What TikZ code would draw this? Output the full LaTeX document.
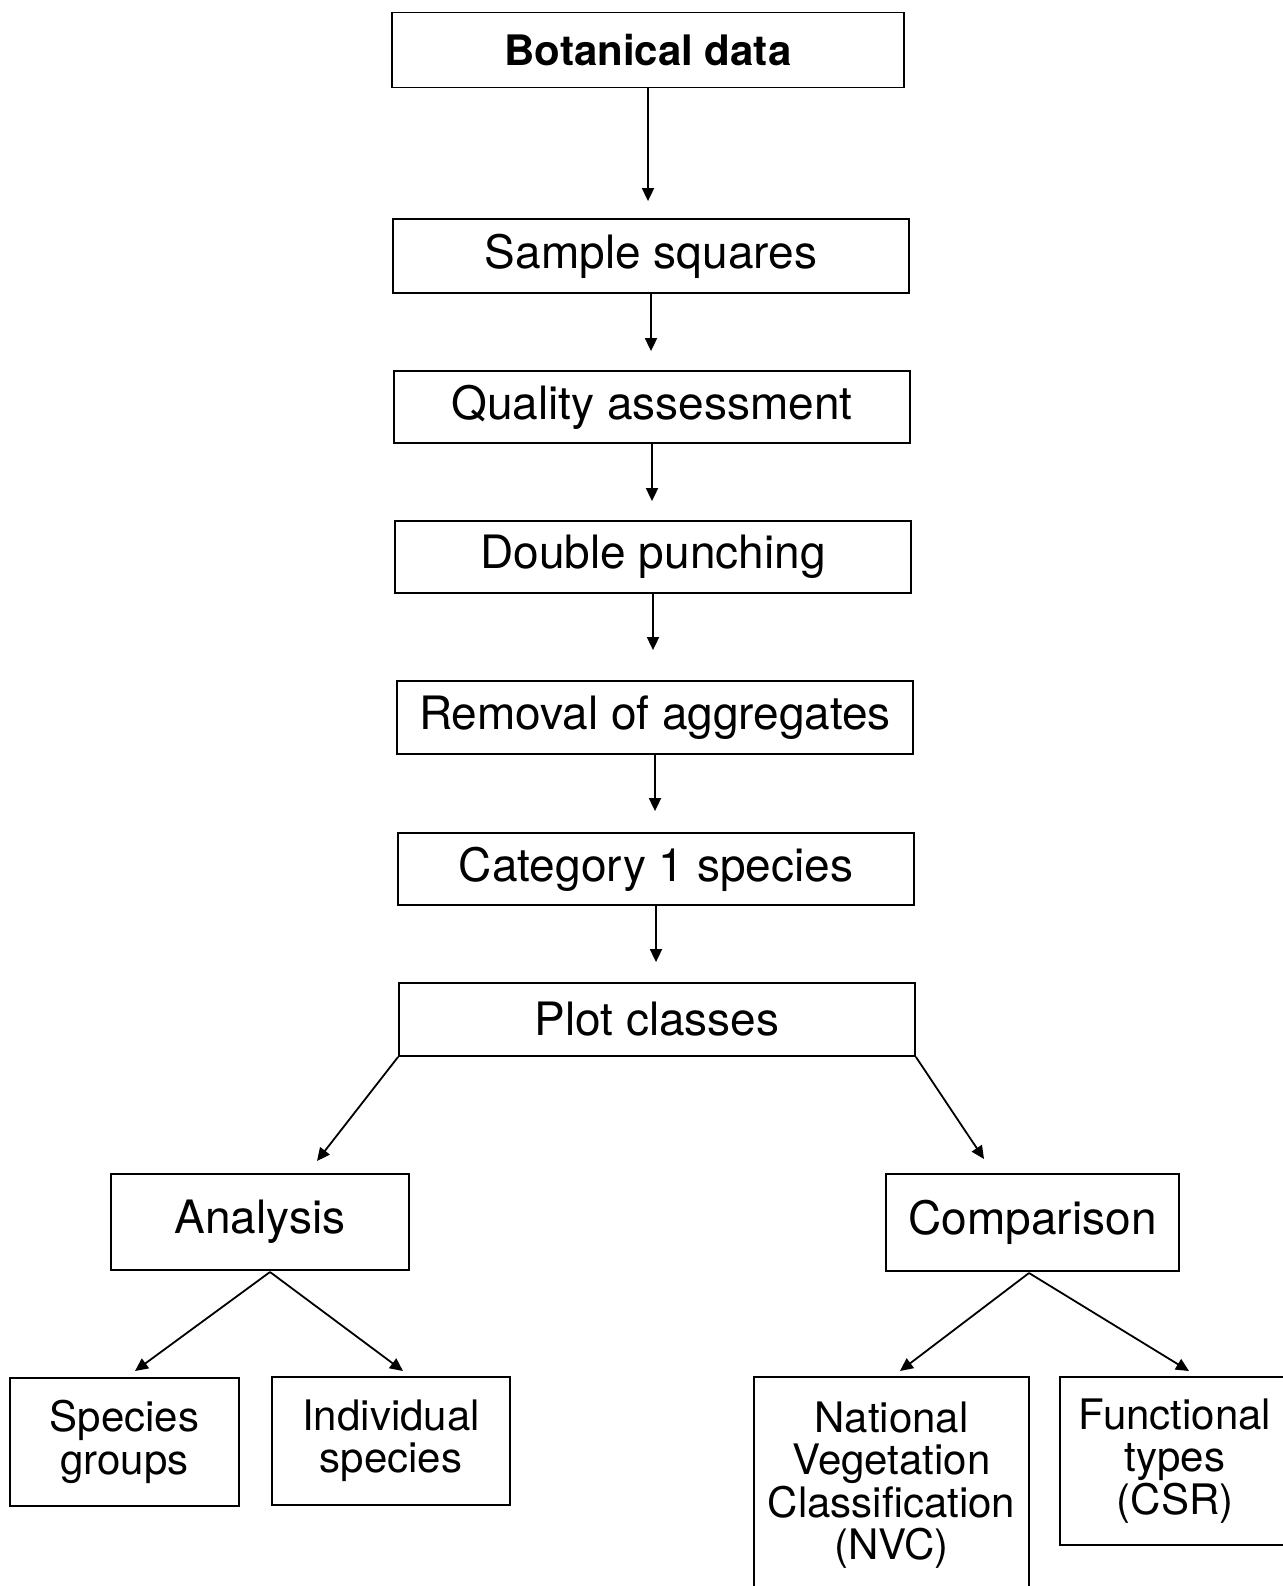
\documentclass[tikz,border=0pt]{standalone}
\usepackage{fontspec}
\setmainfont{TeX Gyre Heros}
\usetikzlibrary{arrows.meta}

\begin{document}
\begin{tikzpicture}[x=1pt, y=-1pt,
  box/.style={draw=black, line width=1.8pt, inner sep=0pt, font=\fontsize{46}{50}\selectfont},
  leaf/.style={box, align=center, font=\fontsize{42}{42.5}\selectfont},
  arr/.style={-{Triangle[length=13pt,width=12pt]}, line width=1.8pt}]
  \useasboundingbox (0,0) rectangle (1282,1586);

  % main chain
  \node[box, minimum width=512pt, minimum height=75pt, font=\fontsize{42}{46}\selectfont\bfseries] (bot) at (648,50) {Botanical data};
  \node[box, minimum width=516pt, minimum height=74pt] (samp) at (651,256) {Sample squares};
  \node[box, minimum width=516pt, minimum height=72pt] (qual) at (652,407) {Quality assessment};
  \node[box, minimum width=516pt, minimum height=72pt] (dbl) at (653,557) {Double punching};
  \node[box, minimum width=516pt, minimum height=73pt] (rem) at (655,717.5) {Removal of aggregates};
  \node[box, minimum width=516pt, minimum height=72pt] (cat) at (656,869) {Category 1 species};
  \node[box, minimum width=516pt, minimum height=73pt] (plot) at (657,1019.5) {Plot classes};

  \foreach \a/\b/\g in {bot/samp/17, samp/qual/19, qual/dbl/19, dbl/rem/30, rem/cat/21, cat/plot/20}
    \draw[arr, shorten >=\g pt] (\a.south) -- (\a.south |- \b.north);

  % second level
  \node[box, minimum width=298pt, minimum height=96pt] (ana) at (260,1222) {Analysis};
  \node[box, minimum width=293pt, minimum height=97pt] (comp) at (1032.5,1222.5) {Comparison};

  \coordinate (anaIn) at (317,1161);
  \coordinate (compIn) at (984,1159);
  \draw[arr] (plot.south west) -- (anaIn);
  \draw[arr] (plot.south east) -- (compIn);

  % leaves
  \node[leaf, minimum width=229pt, minimum height=128pt] (spg) at (124.5,1442) {Species\\groups};
  \node[leaf, minimum width=238pt, minimum height=128pt] (ind) at (391,1441) {Individual\\species};
  \node[leaf, minimum width=275pt, minimum height=216pt] (nvc) at (891.5,1485) {National\\Vegetation\\Classification\\(NVC)};
  \node[leaf, minimum width=230pt, minimum height=168pt] (fun) at (1175,1461) {Functional\\types\\(CSR)};

  \coordinate (anaOut) at (270,1272);
  \coordinate (compOut) at (1029,1273);
  \coordinate (spgIn) at (135,1371);
  \coordinate (indIn) at (403,1371);
  \coordinate (nvcIn) at (900,1371);
  \coordinate (funIn) at (1189,1371);
  \draw[arr] (anaOut) -- (spgIn);
  \draw[arr] (anaOut) -- (indIn);
  \draw[arr] (compOut) -- (nvcIn);
  \draw[arr] (compOut) -- (funIn);
\end{tikzpicture}
\end{document}
